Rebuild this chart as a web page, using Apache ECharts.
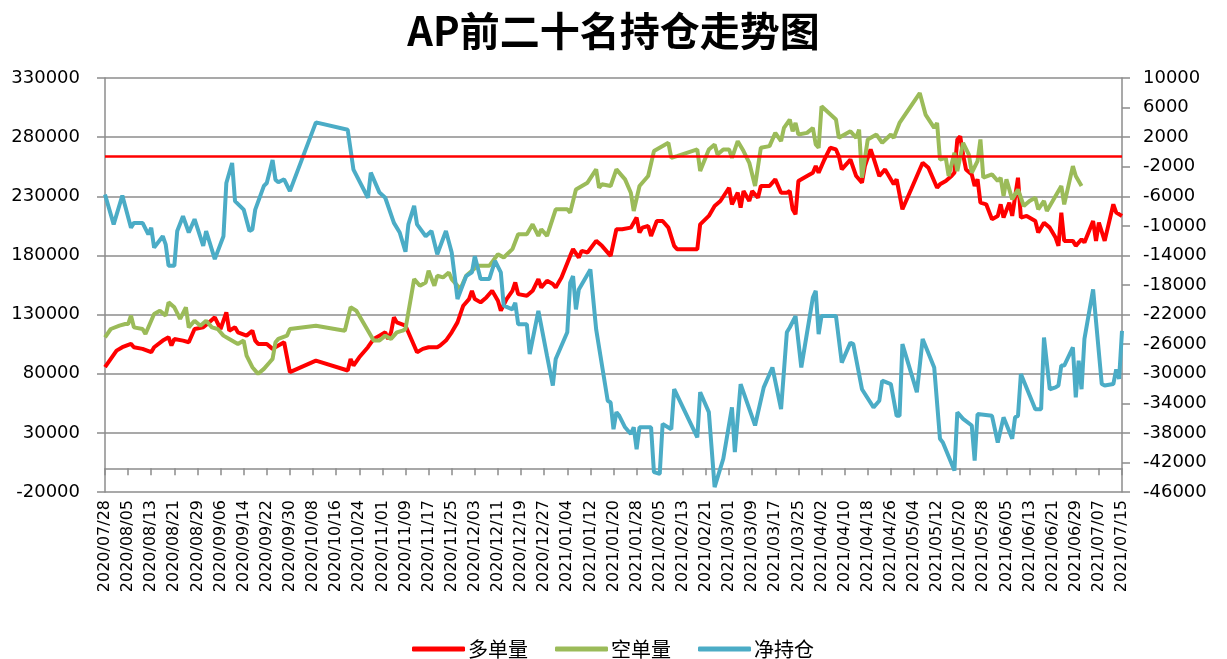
<!DOCTYPE html>
<html>
<head>
<meta charset="utf-8">
<script src="https://cdn.jsdelivr.net/npm/echarts@6/dist/echarts.min.js"></script>
<style>html,body{margin:0;padding:0;background:#fff;}#c{width:1227px;height:659px;}</style>
</head>
<body>
<div id="c"></div>
<script>
// calendar-day categories 2020/07/28 .. 2021/07/15
const startDay = [2020, 6, 28];
const endDay = [2021, 6, 15];
const seriesNames = ['多单量', '空单量', '净持仓'];
const refLineValue = 263500;

const longData = [
['2020/07/28',85500],['2020/07/30',92500],['2020/08/01',99500],['2020/08/03',102400],['2020/08/06',105200],['2020/08/07',102400],['2020/08/10',101000],['2020/08/13',98200],['2020/08/14',102400],['2020/08/17',108000],['2020/08/19',110800],['2020/08/20',103800],['2020/08/21',109400],['2020/08/24',108000],['2020/08/26',106600],['2020/08/28',117800],['2020/08/31',119200],['2020/09/02',123400],['2020/09/04',127700],['2020/09/06',117800],['2020/09/08',131900],['2020/09/09',116400],['2020/09/11',119200],['2020/09/12',115000],['2020/09/15',112200],['2020/09/17',116400],['2020/09/18',108000],['2020/09/19',105200],['2020/09/22',105200],['2020/09/24',101000],['2020/09/26',103800],['2020/09/28',106600],['2020/09/30',81300],['2020/10/09',91100],['2020/10/20',82700],['2020/10/21',92500],['2020/10/22',86900],['2020/10/24',93900],['2020/10/27',102400],['2020/10/29',109400],['2020/10/31',112200],['2020/11/02',115000],['2020/11/03',109400],['2020/11/04',115000],['2020/11/05',127700],['2020/11/06',123400],['2020/11/09',120600],['2020/11/13',98200],['2020/11/15',101000],['2020/11/17',102400],['2020/11/20',102400],['2020/11/21',103800],['2020/11/23',108000],['2020/11/25',115000],['2020/11/27',123400],['2020/11/29',137500],['2020/12/01',143100],['2020/12/02',150100],['2020/12/03',143100],['2020/12/05',140300],['2020/12/07',144500],['2020/12/09',150100],['2020/12/11',141700],['2020/12/12',133300],['2020/12/14',143100],['2020/12/16',150100],['2020/12/17',157200],['2020/12/18',147300],['2020/12/21',145900],['2020/12/23',150100],['2020/12/25',160000],['2020/12/26',152900],['2020/12/28',158600],['2020/12/30',155800],['2020/12/31',152900],['2021/01/02',161400],['2021/01/05',179600],['2021/01/06',185300],['2021/01/08',178200],['2021/01/09',183900],['2021/01/11',182500],['2021/01/14',192300],['2021/01/16',188100],['2021/01/19',179600],['2021/01/21',202100],['2021/01/23',202100],['2021/01/26',203500],['2021/01/28',212000],['2021/01/29',199300],['2021/01/30',203500],['2021/02/01',204900],['2021/02/02',196500],['2021/02/04',209100],['2021/02/06',209100],['2021/02/08',203500],['2021/02/10',188100],['2021/02/11',185300],['2021/02/18',185300],['2021/02/19',206300],['2021/02/22',213400],['2021/02/24',221800],['2021/02/26',226000],['2021/03/01',237200],['2021/03/02',223200],['2021/03/04',233000],['2021/03/05',220400],['2021/03/06',234400],['2021/03/08',226000],['2021/03/09',234400],['2021/03/11',228800],['2021/03/12',238700],['2021/03/15',238700],['2021/03/17',244300],['2021/03/19',233000],['2021/03/21',233000],['2021/03/22',234400],['2021/03/23',219000],['2021/03/24',214800],['2021/03/25',242900],['2021/03/28',247100],['2021/03/30',249900],['2021/03/31',255500],['2021/04/01',249900],['2021/04/03',261100],['2021/04/05',271000],['2021/04/07',269600],['2021/04/08',263900],['2021/04/09',252700],['2021/04/11',258300],['2021/04/12',261100],['2021/04/14',247100],['2021/04/16',241500],['2021/04/17',255500],['2021/04/19',269600],['2021/04/20',262500],['2021/04/22',247100],['2021/04/24',252700],['2021/04/27',240100],['2021/04/28',244300],['2021/04/30',219000],['2021/05/03',235800],['2021/05/07',258300],['2021/05/09',254100],['2021/05/12',237200],['2021/05/13',240100],['2021/05/15',242900],['2021/05/17',247100],['2021/05/18',249900],['2021/05/19',278000],['2021/05/20',280800],['2021/05/21',265300],['2021/05/22',252700],['2021/05/24',248500],['2021/05/25',238700],['2021/05/26',244300],['2021/05/27',224600],['2021/05/29',223200],['2021/05/31',210600],['2021/06/02',213400],['2021/06/03',223200],['2021/06/04',212000],['2021/06/06',224600],['2021/06/07',213400],['2021/06/09',245700],['2021/06/10',212000],['2021/06/12',213400],['2021/06/15',209100],['2021/06/16',199300],['2021/06/18',207700],['2021/06/20',203500],['2021/06/22',195100],['2021/06/23',188100],['2021/06/24',216200],['2021/06/25',192300],['2021/06/28',192300],['2021/06/29',188100],['2021/07/01',193700],['2021/07/02',190900],['2021/07/05',209100],['2021/07/06',192300],['2021/07/07',207700],['2021/07/09',192300],['2021/07/12',223200],['2021/07/13',216200],['2021/07/15',213400]
];

const shortData = [
['2020/07/28',110800],['2020/07/30',117800],['2020/08/02',120600],['2020/08/04',122000],['2020/08/05',122000],['2020/08/06',129100],['2020/08/07',119200],['2020/08/10',117800],['2020/08/11',113600],['2020/08/14',130500],['2020/08/16',133300],['2020/08/18',129100],['2020/08/19',140300],['2020/08/21',136100],['2020/08/23',126300],['2020/08/25',136100],['2020/08/26',119200],['2020/08/28',124800],['2020/08/30',120600],['2020/09/01',124800],['2020/09/03',119200],['2020/09/05',117800],['2020/09/07',112200],['2020/09/09',109400],['2020/09/12',105200],['2020/09/14',108000],['2020/09/15',95300],['2020/09/17',85500],['2020/09/19',79900],['2020/09/21',84100],['2020/09/23',89700],['2020/09/24',92500],['2020/09/25',106600],['2020/09/26',109400],['2020/09/29',112200],['2020/09/30',117800],['2020/10/09',120600],['2020/10/19',116400],['2020/10/21',136100],['2020/10/23',133300],['2020/10/29',108000],['2020/10/31',108000],['2020/11/02',112200],['2020/11/04',109400],['2020/11/06',115000],['2020/11/08',116400],['2020/11/09',117800],['2020/11/12',160000],['2020/11/14',154400],['2020/11/16',157200],['2020/11/17',167000],['2020/11/19',154400],['2020/11/20',162800],['2020/11/22',161400],['2020/11/24',165600],['2020/11/25',160000],['2020/11/28',151500],['2020/11/30',162800],['2020/12/02',167000],['2020/12/04',171200],['2020/12/08',171200],['2020/12/11',181000],['2020/12/13',178200],['2020/12/16',185300],['2020/12/18',197900],['2020/12/21',197900],['2020/12/23',206300],['2020/12/25',196500],['2020/12/26',202100],['2020/12/28',196500],['2020/12/31',219000],['2021/01/04',219000],['2021/01/05',216200],['2021/01/07',235800],['2021/01/11',241500],['2021/01/14',252700],['2021/01/15',237200],['2021/01/16',240100],['2021/01/19',238700],['2021/01/21',252700],['2021/01/24',244300],['2021/01/26',233000],['2021/01/27',217600],['2021/01/29',238700],['2021/02/01',247100],['2021/02/03',268200],['2021/02/08',275200],['2021/02/09',262500],['2021/02/11',263900],['2021/02/18',269600],['2021/02/19',251300],['2021/02/22',269600],['2021/02/24',273800],['2021/02/25',265300],['2021/02/27',269600],['2021/03/01',269600],['2021/03/02',262500],['2021/03/04',276600],['2021/03/06',268200],['2021/03/08',258300],['2021/03/10',238700],['2021/03/12',271000],['2021/03/15',272400],['2021/03/17',283600],['2021/03/19',276600],['2021/03/20',287800],['2021/03/22',294900],['2021/03/23',285000],['2021/03/24',292000],['2021/03/25',282200],['2021/03/28',283600],['2021/03/30',287800],['2021/03/31',273800],['2021/04/01',271000],['2021/04/02',306100],['2021/04/07',294900],['2021/04/08',279400],['2021/04/12',285000],['2021/04/14',279400],['2021/04/15',286400],['2021/04/16',245700],['2021/04/18',278000],['2021/04/21',282200],['2021/04/23',275200],['2021/04/26',282200],['2021/04/27',279400],['2021/04/29',292000],['2021/05/06',317300],['2021/05/08',299100],['2021/05/11',287800],['2021/05/12',292000],['2021/05/13',261100],['2021/05/15',262500],['2021/05/16',247100],['2021/05/18',266800],['2021/05/19',251300],['2021/05/21',275200],['2021/05/23',265300],['2021/05/24',249900],['2021/05/26',259700],['2021/05/27',278000],['2021/05/28',245700],['2021/05/31',248500],['2021/06/02',242900],['2021/06/03',245700],['2021/06/04',230200],['2021/06/05',244300],['2021/06/07',227400],['2021/06/09',235800],['2021/06/11',221800],['2021/06/13',226000],['2021/06/15',228800],['2021/06/16',219000],['2021/06/18',226000],['2021/06/19',217600],['2021/06/21',226000],['2021/06/24',238700],['2021/06/25',223200],['2021/06/28',255500],['2021/06/29',247100],['2021/07/01',238700]
];

const netData = [
['2020/07/28',-5750],['2020/07/31',-9800],['2020/08/03',-5900],['2020/08/06',-10250],['2020/08/07',-9600],['2020/08/10',-9600],['2020/08/12',-11150],['2020/08/13',-10250],['2020/08/14',-12950],['2020/08/17',-11400],['2020/08/18',-12500],['2020/08/19',-15400],['2020/08/21',-15400],['2020/08/22',-10700],['2020/08/24',-8700],['2020/08/26',-10900],['2020/08/28',-9100],['2020/08/31',-12700],['2020/09/01',-10700],['2020/09/04',-14500],['2020/09/07',-11400],['2020/09/08',-4200],['2020/09/10',-1500],['2020/09/11',-6650],['2020/09/14',-7800],['2020/09/16',-10700],['2020/09/17',-10500],['2020/09/18',-7800],['2020/09/21',-4600],['2020/09/22',-4200],['2020/09/24',-1100],['2020/09/25',-3750],['2020/09/26',-4100],['2020/09/28',-3700],['2020/09/30',-5300],['2020/10/09',4000],['2020/10/20',3000],['2020/10/22',-2400],['2020/10/27',-6200],['2020/10/28',-2800],['2020/10/31',-5500],['2020/11/02',-6200],['2020/11/05',-9600],['2020/11/07',-10900],['2020/11/09',-13500],['2020/11/10',-9800],['2020/11/12',-7300],['2020/11/13',-9800],['2020/11/16',-11400],['2020/11/18',-10700],['2020/11/20',-13850],['2020/11/23',-10700],['2020/11/25',-13600],['2020/11/27',-19900],['2020/11/30',-16800],['2020/12/02',-16300],['2020/12/03',-14100],['2020/12/05',-17200],['2020/12/08',-17200],['2020/12/10',-14750],['2020/12/12',-16300],['2020/12/13',-20800],['2020/12/16',-21300],['2020/12/17',-20400],['2020/12/18',-23300],['2020/12/21',-23300],['2020/12/22',-27350],['2020/12/25',-21500],['2020/12/28',-27600],['2020/12/30',-31600],['2020/12/31',-28000],['2021/01/04',-24400],['2021/01/05',-17700],['2021/01/06',-16800],['2021/01/07',-21300],['2021/01/08',-18600],['2021/01/12',-15900],['2021/01/14',-24000],['2021/01/18',-33650],['2021/01/19',-33900],['2021/01/20',-37500],['2021/01/21',-35200],['2021/01/22',-35700],['2021/01/24',-37250],['2021/01/26',-38150],['2021/01/27',-37250],['2021/01/28',-40200],['2021/01/29',-37250],['2021/02/02',-37250],['2021/02/03',-43300],['2021/02/05',-43550],['2021/02/06',-36800],['2021/02/09',-37500],['2021/02/10',-32100],['2021/02/18',-38600],['2021/02/19',-32500],['2021/02/22',-35200],['2021/02/24',-45350],['2021/02/27',-41500],['2021/03/02',-34550],['2021/03/03',-40600],['2021/03/05',-31400],['2021/03/10',-37000],['2021/03/13',-31850],['2021/03/16',-29150],['2021/03/19',-34780],['2021/03/21',-24400],['2021/03/22',-23750],['2021/03/24',-22200],['2021/03/26',-29150],['2021/03/30',-19700],['2021/03/31',-18800],['2021/04/01',-24650],['2021/04/02',-22200],['2021/04/07',-22200],['2021/04/09',-28500],['2021/04/12',-25800],['2021/04/13',-26000],['2021/04/16',-32100],['2021/04/20',-34550],['2021/04/22',-33650],['2021/04/23',-30950],['2021/04/26',-31400],['2021/04/28',-35700],['2021/04/29',-35700],['2021/04/30',-26000],['2021/05/05',-32500],['2021/05/07',-25300],['2021/05/11',-29150],['2021/05/13',-38800],['2021/05/14',-39300],['2021/05/18',-43100],['2021/05/19',-35230],['2021/05/21',-36100],['2021/05/24',-37000],['2021/05/25',-41750],['2021/05/26',-35450],['2021/05/31',-35700],['2021/06/02',-39300],['2021/06/04',-35900],['2021/06/07',-38800],['2021/06/08',-35900],['2021/06/09',-35700],['2021/06/10',-30050],['2021/06/15',-34800],['2021/06/17',-34800],['2021/06/18',-25100],['2021/06/20',-32100],['2021/06/22',-31850],['2021/06/23',-31600],['2021/06/24',-28900],['2021/06/25',-28900],['2021/06/28',-26450],['2021/06/29',-33200],['2021/06/30',-28250],['2021/07/01',-32100],['2021/07/02',-25300],['2021/07/05',-18600],['2021/07/08',-31400],['2021/07/09',-31600],['2021/07/12',-31400],['2021/07/13',-29400],['2021/07/14',-30700],['2021/07/15',-24200]
];

function pad(n) { return n < 10 ? '0' + n : '' + n; }
const categories = [];
for (let t = Date.UTC(startDay[0], startDay[1], startDay[2]); t <= Date.UTC(endDay[0], endDay[1], endDay[2]); t += 86400000) {
  const d = new Date(t);
  categories.push(d.getUTCFullYear() + '/' + pad(d.getUTCMonth() + 1) + '/' + pad(d.getUTCDate()));
}

const GRID = '#8c8c8c';
const FONT = 'DejaVu Sans';
const plain = function (v) { return String(v); };
const chart = echarts.init(document.getElementById('c'));
chart.setOption({
  animation: false,
  backgroundColor: '#fff',
  title: {
    text: 'AP前二十名持仓走势图',
    left: 'center', top: 6,
    textStyle: { fontFamily: 'Noto Sans CJK SC', fontWeight: 'bold', fontSize: 40, color: '#000' }
  },
  legend: {
    data: seriesNames,
    left: 407, top: 634,
    icon: 'roundRect', itemWidth: 53, itemHeight: 5, itemGap: 27,
    textStyle: { fontFamily: 'Noto Sans CJK SC', fontSize: 20, color: '#000', padding: [0, 0, 0, -2] }
  },
  grid: { left: 105, right: 105, top: 78, bottom: 167, containLabel: false },
  xAxis: [
    {
      type: 'category', data: categories, boundaryGap: false, position: 'bottom',
      axisLine: { show: false, onZero: false }, axisTick: { show: false },
      axisLabel: { interval: 7, rotate: 90, fontSize: 16, fontFamily: FONT, color: '#000', margin: 8 },
      splitLine: { show: false }
    },
    {
      type: 'category', data: categories, boundaryGap: false, position: 'bottom',
      axisLine: { show: true, onZero: true, onZeroAxisIndex: 0, lineStyle: { color: GRID, width: 1.5 } },
      axisTick: { show: true, interval: 7, length: 7, lineStyle: { color: GRID, width: 1.5 } },
      axisLabel: { show: false }, splitLine: { show: false }
    }
  ],
  yAxis: [
    {
      type: 'value', min: -20000, max: 330000, interval: 50000, position: 'left',
      axisLine: { show: true, lineStyle: { color: GRID, width: 1.5 } },
      axisTick: { show: true, length: 8, lineStyle: { color: GRID, width: 1.5 } },
      axisLabel: { fontSize: 18, fontFamily: FONT, color: '#000', margin: 25, formatter: plain },
      splitLine: { show: true, lineStyle: { color: GRID, width: 1.5 } }
    },
    {
      type: 'value', min: -46000, max: 10000, interval: 4000, position: 'right',
      axisLine: { show: true, lineStyle: { color: GRID, width: 1.5 } },
      axisTick: { show: true, length: 8, lineStyle: { color: GRID, width: 1.5 } },
      axisLabel: { fontSize: 18, fontFamily: FONT, color: '#000', margin: 21, formatter: plain },
      splitLine: { show: false }
    }
  ],
  series: [
    {
      name: seriesNames[0], type: 'line', xAxisIndex: 0, yAxisIndex: 0, data: longData,
      showSymbol: false, symbol: 'none', color: '#FF0000',
      lineStyle: { width: 4, color: '#FF0000' }, z: 2,
      markLine: {
        silent: true, symbol: 'none', label: { show: false }, z: 5,
        lineStyle: { color: '#FF0000', width: 2.5, type: 'solid' },
        data: [{ yAxis: refLineValue }]
      }
    },
    {
      name: seriesNames[1], type: 'line', xAxisIndex: 0, yAxisIndex: 0, data: shortData,
      showSymbol: false, symbol: 'none', color: '#9BBB59',
      lineStyle: { width: 4, color: '#9BBB59' }, z: 3
    },
    {
      name: seriesNames[2], type: 'line', xAxisIndex: 0, yAxisIndex: 1, data: netData,
      showSymbol: false, symbol: 'none', color: '#4BACC6',
      lineStyle: { width: 4, color: '#4BACC6' }, z: 4
    }
  ]
});
</script>
</body>
</html>
